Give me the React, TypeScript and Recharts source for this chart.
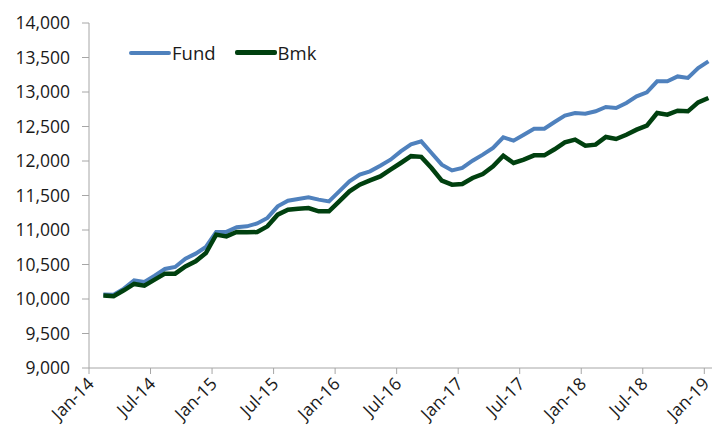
import React from 'react';
import { LineChart, Line, XAxis, YAxis } from 'recharts';

// tick labels on the date axis, one every 6 months starting Jan-14
const tickLabels = ['Jan-14', 'Jul-14', 'Jan-15', 'Jul-15', 'Jan-16', 'Jul-16', 'Jan-17', 'Jul-17', 'Jan-18', 'Jul-18', 'Jan-19'];

// monthly growth of 10,000 (Feb-14 .. Jan-19)
const fundValues = [
  10065, 10062, 10150, 10270, 10247, 10338, 10435, 10464, 10585, 10657, 10754, 10972, 10972, 11040, 11053,
  11095, 11175, 11343, 11425, 11450, 11473, 11440, 11415, 11560, 11705, 11802, 11850, 11932, 12019, 12140, 12240,
  12285, 12116, 11947, 11864, 11899, 12005, 12092, 12189, 12343, 12295, 12381, 12468, 12468, 12565,
  12657, 12696, 12686, 12720, 12783, 12768, 12841, 12936, 12994, 13154, 13154, 13226, 13203, 13348, 13444,
];

const bmkValues = [
  10049, 10039, 10126, 10218, 10193, 10280, 10367, 10367, 10473, 10546, 10667, 10933, 10908, 10972, 10966,
  10970, 11053, 11222, 11295, 11309, 11319, 11270, 11270, 11415, 11560, 11657, 11719, 11777, 11874, 11971, 12070,
  12060, 11899, 11715, 11657, 11667, 11754, 11812, 11922, 12077, 11971, 12019, 12082, 12082, 12170,
  12270, 12309, 12222, 12237, 12348, 12319, 12381, 12454, 12512, 12696, 12671, 12729, 12720, 12850, 12913,
];

const yTicks = [9000, 9500, 10000, 10500, 11000, 11500, 12000, 12500, 13000, 13500, 14000];

const FUND_COLOR = '#4F81BD';
const BMK_COLOR = '#00400F';
const AXIS_COLOR = '#A6A6A6';
const TEXT_COLOR = '#1a1a1a';
const FONT = '"Open Sans", "Noto Sans", sans-serif';

// months since Jan-14; each observation sits a little after its month start
const data = fundValues.map((v, i) => ({ t: i + 1.4, fund: v, bmk: bmkValues[i] }));

const DateTick = ({ x, y, payload }: any) => {
  const label = tickLabels[Math.round(payload.value / 6)];
  return (
    <g transform={`translate(${x + 6},${y + 11})`}>
      <text x={0} y={0} textAnchor="end" transform="rotate(-45)" fill={TEXT_COLOR} fontSize={17.5} fontFamily={FONT}>
        {label}
      </text>
    </g>
  );
};

// legend drawn on top of the chart so it does not push the plot area down
const ChartLegend = () => (
  <div
    style={{
      position: 'absolute',
      left: 129,
      top: 40,
      display: 'flex',
      alignItems: 'center',
      fontFamily: FONT,
      fontSize: 18.5,
      color: TEXT_COLOR,
    }}
  >
    <span style={{ display: 'inline-block', width: 42, height: 4, borderRadius: 2, background: FUND_COLOR }} />
    <span style={{ marginLeft: 1, marginRight: 19 }}>Fund</span>
    <span style={{ display: 'inline-block', width: 42, height: 4.5, borderRadius: 2, background: BMK_COLOR }} />
    <span style={{ marginLeft: 1 }}>Bmk</span>
  </div>
);

export default function App() {
  return (
    <div style={{ position: 'absolute', left: 0, top: 0, width: 714, height: 437, background: '#fff' }}>
      <LineChart width={714} height={437} data={data} margin={{ top: 23, right: 2, bottom: 0, left: 0 }}>
        <XAxis
          dataKey="t"
          type="number"
          domain={[0, 60.75]}
          ticks={[0, 6, 12, 18, 24, 30, 36, 42, 48, 54, 60]}
          tick={<DateTick />}
          tickSize={6}
          tickMargin={0}
          height={69}
          axisLine={{ stroke: AXIS_COLOR }}
          tickLine={{ stroke: AXIS_COLOR }}
          interval={0}
        />
        <YAxis
          domain={[9000, 14000]}
          ticks={yTicks}
          width={89}
          tickSize={7}
          tickMargin={12}
          interval={0}
          tickFormatter={(v: number) => v.toLocaleString('en-US')}
          tick={{ fill: TEXT_COLOR, fontSize: 17.5, fontFamily: FONT }}
          axisLine={{ stroke: AXIS_COLOR }}
          tickLine={{ stroke: AXIS_COLOR }}
        />
        <Line type="linear" dataKey="fund" name="Fund" stroke={FUND_COLOR} strokeWidth={4} dot={false} isAnimationActive={false} />
        <Line type="linear" dataKey="bmk" name="Bmk" stroke={BMK_COLOR} strokeWidth={4.5} dot={false} isAnimationActive={false} />
      </LineChart>
      <ChartLegend />
    </div>
  );
}
